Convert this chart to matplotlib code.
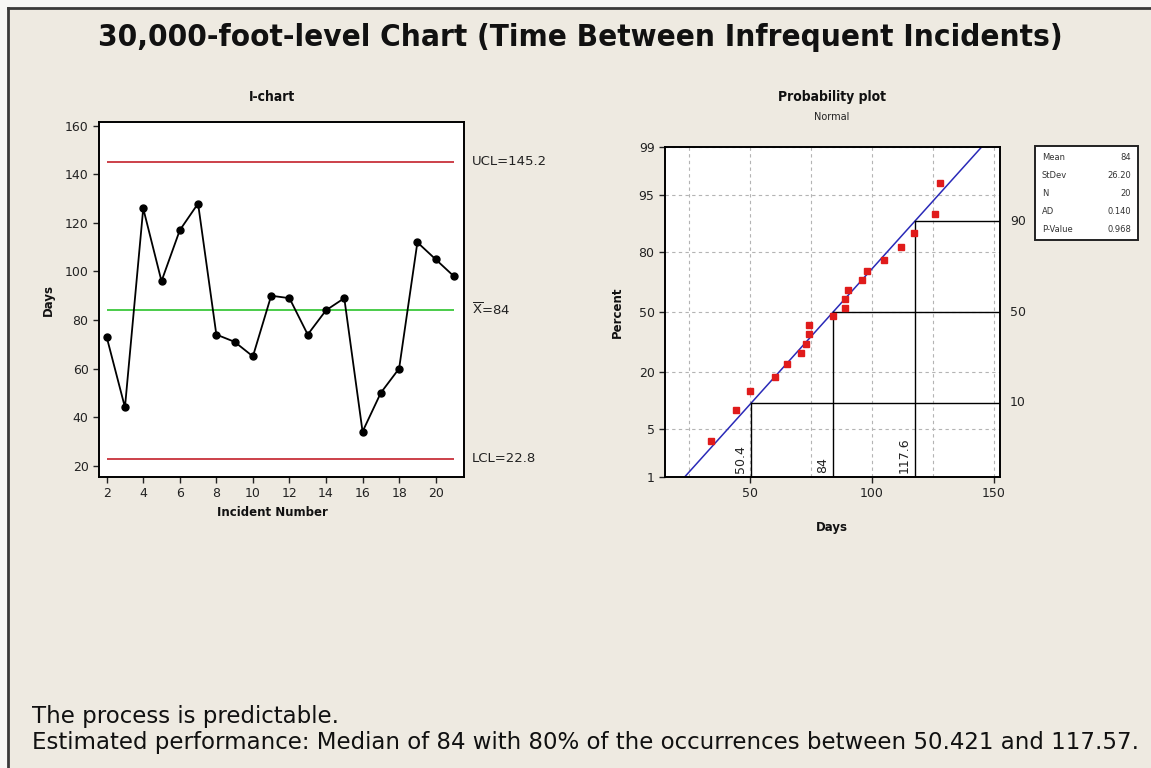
import matplotlib
matplotlib.use('Agg')
import matplotlib.pyplot as plt
import numpy as np
from statistics import NormalDist
from matplotlib.patches import Rectangle
from matplotlib.lines import Line2D
from matplotlib.ticker import NullLocator

# ---------------- data ----------------
incident = list(range(2, 22))
days = [73, 44, 126, 96, 117, 128, 74, 71, 65, 90, 89, 74, 84, 89, 34, 50, 60, 112, 105, 98]
center_line = 84
ucl = 145.2
lcl = 22.8
ichart_yticks = [20, 40, 60, 80, 100, 120, 140, 160]
ichart_xticks = [2, 4, 6, 8, 10, 12, 14, 16, 18, 20]

fit_mean = 84
fit_stdev = 26.20
n_obs = 20
ad_stat = 0.140
p_value = 0.968
pct_levels = [10, 50, 90]
pct_values = [50.421, 84, 117.57]
pct_labels = ['50.4', '84', '117.6']
prob_yticks = [1, 5, 20, 50, 80, 95, 99]
prob_xticks = [50, 100, 150]
prob_xgrid_minor = [25, 75, 125]

W, H = 1151, 768
BG = '#EEEAE1'

fig = plt.figure(figsize=(W / 100, H / 100), dpi=100)
fig.patch.set_facecolor(BG)


def fx(px):
    return px / W


def fy(py):
    return 1 - py / H


def box(l, t, r, b):
    return [fx(l), fy(b), (r - l) / W, (b - t) / H]


# white strips outside the window frame
fig.patches.append(Rectangle((0, 0), fx(8), 1, transform=fig.transFigure,
                             facecolor='#F7F7F5', edgecolor='none', zorder=-5))
fig.patches.append(Rectangle((0, fy(8)), 1, 1 - fy(8), transform=fig.transFigure,
                             facecolor='#F7F7F5', edgecolor='none', zorder=-5))
fig.add_artist(Line2D([fx(8), fx(8)], [0, fy(8)], transform=fig.transFigure, color='#3a3a3a', lw=2, zorder=-4))
fig.add_artist(Line2D([fx(8), 1], [fy(8), fy(8)], transform=fig.transFigure, color='#3a3a3a', lw=2, zorder=-4))

# ---------------- titles ----------------
fig.text(fx(580), fy(38), '30,000-foot-level Chart (Time Between Infrequent Incidents)',
         ha='center', va='center', fontsize=22.5, fontweight='bold', fontstretch='condensed',
         family='DejaVu Sans', color='#111111')
fig.text(fx(272), fy(97), 'I-chart', ha='center', va='center', fontsize=10,
         fontweight='bold', fontstretch='condensed', color='#111111')
fig.text(fx(832), fy(97), 'Probability plot', ha='center', va='center', fontsize=10,
         fontweight='bold', fontstretch='condensed', color='#111111')
fig.text(fx(832), fy(117), 'Normal', ha='center', va='center', fontsize=7, color='#222222')

# ---------------- I-chart ----------------
ax1 = fig.add_axes(box(99, 122, 464, 477))
ax1.set_facecolor('white')
ax1.hlines([ucl, lcl], 2, 21, color='#c8323c', lw=1.3)
ax1.hlines([center_line], 2, 21, color='#3cc83c', lw=1.3)
ax1.plot(incident, days, color='black', lw=1.3, marker='o', ms=5, zorder=3)
ax1.set_xlim(1.58, 21.55)
ax1.set_ylim(15.3, 161.6)
ax1.set_xticks(ichart_xticks)
ax1.set_yticks(ichart_yticks)
for s in ax1.spines.values():
    s.set_linewidth(1.4)
ax1.tick_params(direction='out', length=4, width=1, labelsize=9, colors='#222222')
tr1 = ax1.get_yaxis_transform()
ax1.text(1.022, ucl, 'UCL=145.2', transform=tr1, va='center', ha='left', fontsize=9.5, color='#222222')
ax1.text(1.022, center_line, r'$\overline{\mathrm{X}}$=84', transform=tr1, va='center', ha='left',
         fontsize=9.5, color='#222222')
ax1.text(1.022, lcl, 'LCL=22.8', transform=tr1, va='center', ha='left', fontsize=9.5, color='#222222')
fig.text(fx(48), fy(300), 'Days', rotation=90, ha='center', va='center', fontsize=8.5,
         fontweight='bold', color='#111111')
fig.text(fx(272), fy(513), 'Incident Number', ha='center', va='center', fontsize=8.5,
         fontweight='bold', color='#111111')

# ---------------- Probability plot ----------------
nd = NormalDist()


def fwd(p):
    p = np.clip(np.asarray(p, dtype=float), 1e-6, 100 - 1e-6)
    return np.vectorize(lambda v: nd.inv_cdf(v / 100.0), otypes=[float])(p)


def inv(z):
    z = np.asarray(z, dtype=float)
    return np.vectorize(lambda v: nd.cdf(v) * 100.0, otypes=[float])(z)


ax2 = fig.add_axes(box(665, 147, 1000, 477))
ax2.set_facecolor('white')
ax2.set_yscale('function', functions=(fwd, inv))
ax2.set_xlim(15, 152.5)
ax2.set_ylim(1, 99)
ax2.set_yticks(prob_yticks)
ax2.set_yticklabels([str(t) for t in prob_yticks])
ax2.yaxis.set_minor_locator(NullLocator())
ax2.set_xticks(prob_xticks)
ax2.set_xticks(prob_xgrid_minor, minor=True)
ax2.tick_params(which='minor', length=0)
ax2.tick_params(which='major', direction='out', length=4, width=1, labelsize=9, colors='#222222')
ax2.grid(True, which='both', axis='x', color='#b4b4b4', ls=(0, (3, 3)), lw=0.8)
ax2.grid(True, which='major', axis='y', color='#b4b4b4', ls=(0, (3, 3)), lw=0.8)
ax2.set_axisbelow(True)
for s in ax2.spines.values():
    s.set_linewidth(1.4)

sorted_days = np.sort(np.array(days, dtype=float))
ranks = np.arange(1, len(sorted_days) + 1)
plot_pos = (ranks - 0.3) / (len(sorted_days) + 0.4) * 100

zlo, zhi = fwd([1, 99])
ax2.plot([fit_mean + fit_stdev * zlo, fit_mean + fit_stdev * zhi], [1, 99], color='#2a2ab8', lw=1.1, zorder=2)

xmax = ax2.get_xlim()[1]
for p, v, lab in zip(pct_levels, pct_values, pct_labels):
    ax2.plot([v, v], [1, p], color='black', lw=1, zorder=2)
    ax2.plot([v, xmax], [p, p], color='black', lw=1, zorder=2)
    ax2.annotate(lab, xy=(v, 1), xytext=(-3, 3), textcoords='offset points', rotation=90,
                 ha='right', va='bottom', fontsize=9, color='#222222')
    ax2.text(1.03, p, str(p), transform=ax2.get_yaxis_transform(), ha='left', va='center',
             fontsize=9, color='#222222')

ax2.plot(sorted_days, plot_pos, ls='none', marker='s', ms=5, color='#e01b1b', zorder=4)

fig.text(fx(617), fy(312), 'Percent', rotation=90, ha='center', va='center', fontsize=8.5,
         fontweight='bold', color='#111111')
fig.text(fx(832), fy(527), 'Days', ha='center', va='center', fontsize=8.5,
         fontweight='bold', color='#111111')

# legend box
fig.patches.append(Rectangle((fx(1035), fy(240)), (1138 - 1035) / W, (240 - 146) / H,
                             transform=fig.transFigure, facecolor='white', edgecolor='#222222',
                             lw=1.4, zorder=1))
leg_rows = [('Mean', f'{fit_mean:g}'), ('StDev', f'{fit_stdev:.2f}'), ('N', f'{n_obs}'),
            ('AD', f'{ad_stat:.3f}'), ('P-Value', f'{p_value:.3f}')]
for i, (k, v) in enumerate(leg_rows):
    yy = 157 + i * 18
    fig.text(fx(1042), fy(yy), k, ha='left', va='center', fontsize=6, color='#333333', zorder=2)
    fig.text(fx(1131), fy(yy), v, ha='right', va='center', fontsize=6, color='#333333', zorder=2)

# ---------------- bottom text ----------------
fig.text(fx(32), fy(717), 'The process is predictable.', ha='left', va='center', fontsize=16.5,
         color='#111111')
fig.text(fx(32), fy(743), 'Estimated performance: Median of 84 with 80% of the occurrences between 50.421 and 117.57.',
         ha='left', va='center', fontsize=16.5, color='#111111')

fig.savefig('out.png', dpi=100, facecolor=fig.get_facecolor())
